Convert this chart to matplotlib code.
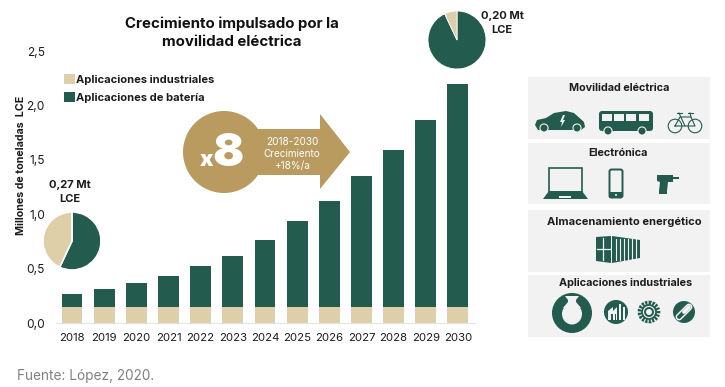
import matplotlib
matplotlib.use("Agg")
import matplotlib.pyplot as plt
from matplotlib.patches import Circle, Rectangle, Polygon, FancyBboxPatch, Ellipse

years = ["2018","2019","2020","2021","2022","2023","2024","2025","2026","2027","2028","2029","2030"]
industrial = [0.15]*13
totals = [0.27,0.31,0.37,0.43,0.52,0.62,0.76,0.94,1.12,1.35,1.59,1.87,2.20]
battery = [t-i for t,i in zip(totals,industrial)]
yticks = [0,0.5,1.0,1.5,2.0,2.5]
ytick_labels = ["0,0","0,5","1,0","1,5","2,0","2,5"]
pie_2018 = [57,43]
pie_2030 = [93,7]

DARK="#235c4e"; BEIGE="#dfcfa9"; GOLD="#b99a5f"; PANEL="#f2f2f2"; TXT="#1c1c1c"
plt.rcParams['font.family']=['Inter','DejaVu Sans']
W,H=725,387
fig=plt.figure(figsize=(W/100,H/100),dpi=100,facecolor="white")
def rect(l,t,r,b): return [l/W,1-b/H,(r-l)/W,(b-t)/H]

ax=fig.add_axes(rect(56,51,475,323))
x=list(range(13))
b1=ax.bar(x,industrial,width=0.65,color=BEIGE,label="Aplicaciones industriales")
b2=ax.bar(x,battery,bottom=industrial,width=0.65,color=DARK,label="Aplicaciones de batería")
ax.set_xlim(-0.497,12.53); ax.set_ylim(0,2.5)
ax.set_xticks(x,years,fontsize=8.2,color=TXT)
ax.set_yticks(yticks,ytick_labels,fontsize=8.6,color=TXT)
ax.tick_params(axis='x',length=0,pad=7)
ax.tick_params(axis='y',length=0,pad=8)
for s in ["top","right","left"]: ax.spines[s].set_visible(False)
ax.spines["bottom"].set_color("#e3e3e3")
ax.patch.set_alpha(0)
ax.set_ylabel("Millones de toneladas  LCE",fontsize=7.7,fontweight="bold",color=TXT)
ax.yaxis.set_label_coords((26-56)/419,(323-165)/272)
leg=ax.legend(handles=[b1,b2],loc="upper left",bbox_to_anchor=((64-56)/419,(323-74)/272),frameon=False,
    prop={'size':8.0,'weight':'bold'},handlelength=0.95,handleheight=0.95,handletextpad=0.1,labelspacing=0.68,borderpad=0,borderaxespad=0)
for t in leg.get_texts(): t.set_color(TXT)

o=fig.add_axes([0,0,1,1],zorder=-1); o.set_xlim(0,W); o.set_ylim(H,0); o.axis("off")
o2=fig.add_axes([0,0,1,1],zorder=3); o2.set_xlim(0,W); o2.set_ylim(H,0); o2.axis("off"); o2.patch.set_alpha(0)

# title and notes
o2.text(232,33,"Crecimiento impulsado por la\nmovilidad eléctrica",ha="center",va="center",fontsize=10.8,fontweight="bold",color="#111111",linespacing=1.38)
o2.text(17,376,"Fuente: López, 2020.",fontsize=9.8,color="#808080",va="center")
o2.text(70,192,"0,27 Mt\nLCE",ha="center",va="center",fontsize=8,fontweight="bold",color=TXT,linespacing=1.4)
o2.text(502,23,"0,20 Mt\nLCE",ha="center",va="center",fontsize=8,fontweight="bold",color=TXT,linespacing=1.5)

# growth arrow
o2.add_patch(Circle((224,152),41,color=GOLD,lw=0))
o2.add_patch(Polygon([(255,129),(320,129),(320,114),(350,152),(320,189),(320,175),(255,175)],closed=True,color=GOLD,lw=0))
o2.text(207,166,"x",ha="center",va="baseline",fontsize=16,fontweight="black",color="white")
o2.text(228,166,"8",ha="center",va="baseline",fontsize=33,fontweight="black",color="white")
o2.text(292,154,"2018-2030\nCrecimiento\n+18%/a",ha="center",va="center",fontsize=7.2,color="white",linespacing=1.25)

# pies
def pie(cx,cy,r,vals,cols,lw):
    a=fig.add_axes(rect(cx-r-1,cy-r-1,cx+r+1,cy+r+1),zorder=2)
    a.pie(vals,colors=cols,startangle=90,counterclock=False,radius=1,wedgeprops=dict(edgecolor="white",linewidth=lw))
    a.set_xlim(-(r+1)/r,(r+1)/r); a.set_ylim(-(r+1)/r,(r+1)/r)
pie(72,241,29,pie_2018,[DARK,BEIGE],1.2)
pie(457,40,29,pie_2030,[DARK,BEIGE],0.6)

# right panels
panels=[(77,139,"Movilidad eléctrica",619,88,7.8),(143,204,"Electrónica",618,153,7.8),
        (210,272,"Almacenamiento energético",624,222,8.0),(275,337,"Aplicaciones industriales",626,283,7.8)]
for t,b,lab,tx,ty,fs in panels:
    o.add_patch(Rectangle((528,t),182,b-t,color=PANEL,lw=0))
    o2.text(tx,ty,lab,ha="center",va="center",fontsize=fs,fontweight="bold",color=TXT)

def poly(pts,c=DARK,**k): o2.add_patch(Polygon(pts,closed=True,color=c,lw=0,**k))
def rc(x,y,w,h,c=DARK): o2.add_patch(Rectangle((x,y),w,h,color=c,lw=0))
def ci(x,y,r,c=DARK,**k): o2.add_patch(Circle((x,y),r,color=c,lw=0,**k))
def ring(x,y,r,c=DARK,lw=1): o2.add_patch(Circle((x,y),r,fill=False,edgecolor=c,lw=lw))

# car
poly([(535,125),(537,120),(546,118),(554,113),(566,111),(574,113),(584,122),(585,127),(581,130),(538,130)])
for cx in (544,577):
    ci(cx,128,4.6,PANEL); ci(cx,128,3.5)
poly([(563,115),(560,122),(562,122),(561,127),(565,120),(563,120),(565,115)],PANEL)
# bus
o2.add_patch(FancyBboxPatch((599,111),54,20,boxstyle="round,pad=0,rounding_size=3",color=DARK,lw=0))
for wx in (602,614,626,639):
    rc(wx,114,10,7,PANEL)
for cx in (608,642):
    ci(cx,131,4.6,PANEL); ci(cx,131,3.5)
# bicycle
ring(675,126,6.8,DARK,0.8); ring(695,126,6.8,DARK,0.8)
o2.plot([675,680,691,695,685,675],[126,117,117,126,126,126],color=DARK,lw=0.8)
o2.plot([677,682],[113,113],color=DARK,lw=0.8); o2.plot([679,685],[113,126],color=DARK,lw=0.8)
o2.plot([688,693],[113,113],color=DARK,lw=0.8); o2.plot([690,691],[113,117],color=DARK,lw=0.8)
# laptop
o2.add_patch(Rectangle((549,167.5),33,24,fill=False,edgecolor=DARK,lw=1.2))
poly([(549,191),(582,191),(588,199),(543,199)])
rc(559,196,12,1.5,PANEL)
# phone
o2.add_patch(FancyBboxPatch((609.5,169.5),13,28,boxstyle="round,pad=0,rounding_size=2",facecolor=PANEL,edgecolor=DARK,lw=1.4))
rc(609.5,192,13,5.5); ci(616,195,1,PANEL)
# drill
poly([(657,175),(673,175),(673,182),(668,182),(667,191),(659,191),(660,182),(657,181)])
rc(673,177,6,2); rc(679,177.6,4,0.8); rc(659,191,8,3)
# container
poly([(596,237),(611,236),(611,263),(596,261)])
poly([(612,236),(640,240),(640,258),(612,263)])
for lx in (616,620,624,628,632,636):
    o2.plot([lx,lx],[238.5,259.5],color=PANEL,lw=0.8)
o2.plot([603,603],[238,260],color=PANEL,lw=0.9); o2.plot([597,610],[249,249],color=PANEL,lw=0.9)
# vase
ci(572,313,20)
poly([(565,296),(579,296),(576,300),(576,304),(568,304),(568,300)],PANEL)
o2.add_patch(Ellipse((572,314),20,21,color=PANEL,lw=0))
poly([(568,302),(576,302),(581,308),(563,308)],PANEL)
# factory
ci(616,312,12)
poly([(608,320),(608,311),(613,307),(613,311),(617,307),(617,320)],PANEL)
rc(619,304,2.5,16,PANEL); rc(623,307,2,13,PANEL)
rc(611,314,2,6,DARK); rc(615,314,1,6,DARK)
# gear
o2.add_patch(Circle((649,312),9,fill=False,edgecolor=DARK,lw=3.4,linestyle=(0,(0.45,0.25))))
ring(649,312,7,DARK,1.2); ring(649,312,4,DARK,1.4)
# pill
ci(684,312,11)
o2.plot([679,689],[317,307],color=PANEL,lw=5,solid_capstyle="round")
o2.plot([679,689],[317,307],color=DARK,lw=2.8,solid_capstyle="round")
o2.plot([684,689],[312,307],color=PANEL,lw=2.8,solid_capstyle="round")

fig.savefig("out.png",dpi=100)
